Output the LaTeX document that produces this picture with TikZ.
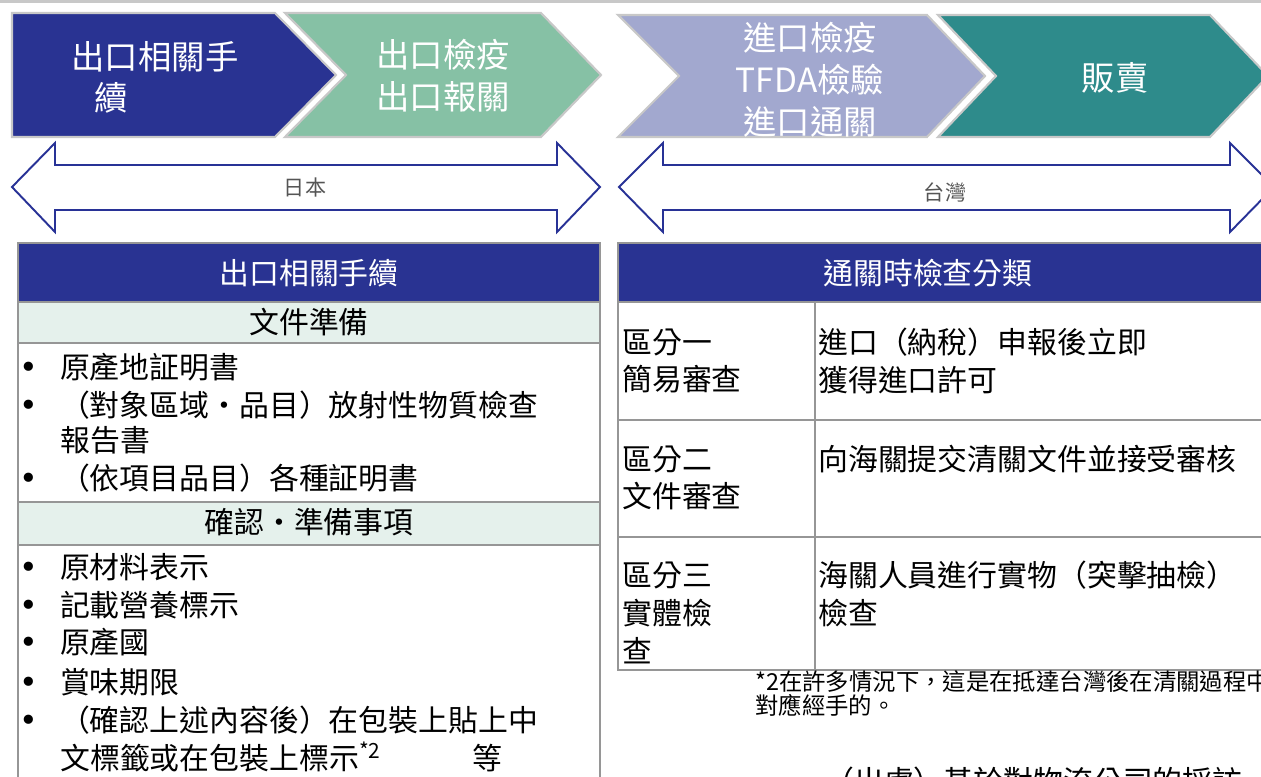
\documentclass[tikz,border=0pt]{standalone}
\usepackage{fontspec}
\setmainfont{Noto Sans CJK TC}
\newfontfamily\dotfont{DejaVu Sans}
\usetikzlibrary{positioning}

\definecolor{navy}{RGB}{41,51,146}
\definecolor{mint}{RGB}{134,193,165}
\definecolor{lilac}{RGB}{162,168,207}
\definecolor{deepteal}{RGB}{46,139,139}
\definecolor{paleg}{RGB}{229,241,236}
\definecolor{rulegray}{RGB}{150,150,150}
\definecolor{edgegray}{RGB}{200,200,200}
\definecolor{arrowblue}{RGB}{40,50,150}
\definecolor{landgray}{RGB}{85,85,85}

\newcommand{\bul}{\makebox[23.2pt][l]{\dotfont\fontsize{18}{21.5}\selectfont •}}

\begin{document}
\begin{tikzpicture}[x=0.02cm,y=-0.02cm,
        chev/.style={draw=edgegray,line width=1.2pt},
        chevtext/.style={text=white,align=center,inner sep=0pt,font=\fontsize{19}{24}\selectfont},
        bidir/.style={draw=arrowblue,fill=white,line width=1.1pt},
        land/.style={text=landgray,inner sep=0pt,font=\fontsize{12}{14}\selectfont},
        cell/.style={draw=rulegray,line width=1pt},
        head/.style={text=white,inner sep=0pt,font=\fontsize{17}{21}\selectfont},
        sub/.style={inner sep=0pt,font=\fontsize{17}{21}\selectfont},
        item/.style={anchor=west,inner sep=0pt,font=\fontsize{17}{21.5}\selectfont},
        cls/.style={anchor=west,align=left,inner sep=0pt,font=\fontsize{17}{21.5}\selectfont},
        note/.style={anchor=west,align=left,inner sep=0pt,font=\fontsize{13.3}{13.2}\selectfont}]

    \useasboundingbox (0,0) rectangle (1261,777);

    % top rule
    \draw[edgegray,line width=1.7pt] (0,1.5) -- (1261,1.5);

    % process chevrons
    \filldraw[chev,fill=navy] (12,13) -- (275,13) -- (336,75) -- (275,137) -- (12,137) -- cycle;
    \filldraw[chev,fill=mint] (285,13) -- (541,13) -- (601,75) -- (541,137) -- (285,137) -- (346,75) -- cycle;
    \filldraw[chev,fill=lilac] (618,15) -- (927,15) -- (985,76) -- (927,137) -- (618,137) -- (679,76) -- cycle;
    \filldraw[chev,fill=deepteal] (938,15) -- (1210,15) -- (1268,76) -- (1210,137) -- (938,137) -- (996,76) -- cycle;

    \node[chevtext] (proc_1a) at (155,57) {出口相關手};
    \node[chevtext] (proc_1b) at (111,98) {續};
    \node[chevtext] (proc_2) at (443,76) {出口檢疫\\出口報關};
    \node[chevtext] (proc_3) at (810,80) {進口檢疫\\TFDA檢驗\\進口通關};
    \node[chevtext] (proc_4) at (1115,78) {販賣};

    % country spans
    \filldraw[bidir] (12,187) -- (55,143) -- (55,165) -- (557,165) -- (557,143) -- (600,187)
        -- (557,232) -- (557,210) -- (55,210) -- (55,232) -- cycle;
    \filldraw[bidir] (619,187) -- (663,143) -- (663,165) -- (1230,165) -- (1230,143) -- (1274,187)
        -- (1230,232) -- (1230,210) -- (663,210) -- (663,232) -- cycle;
    \node[land] (jp) at (305,187) {日本};
    \node[land] (tw) at (945,192) {台灣};

    % left table
    \filldraw[cell,fill=navy] (18,243) rectangle (600,302);
    \filldraw[cell,fill=paleg] (18,302) rectangle (600,343);
    \draw[cell] (18,343) rectangle (600,502);
    \filldraw[cell,fill=paleg] (18,502) rectangle (600,545);
    \draw[cell] (18,545) rectangle (600,800);

    \node[head] (hd_l) at (309,273) {出口相關手續};
    \node[sub] (sec_doc) at (309,322) {文件準備};
    \node[sub] (sec_chk) at (309,522) {確認・準備事項};

    \foreach \yy/\txt [count=\i] in {367/原產地証明書, 405/（對象區域・品目）放射性物質檢查, 478/（依項目品目）各種証明書} {
        \node[item] (doc_\i) at (19,\yy) {\bul\txt};
    }
    \node[item] (doc_2b) at (60,440) {報告書};

    \foreach \yy/\txt [count=\i] in {567/原材料表示, 605/記載營養標示, 642/原產國, 682/賞味期限, 720/（確認上述內容後）在包裝上貼上中} {
        \node[item] (chk_\i) at (19,\yy) {\bul\txt};
    }
    \node[item] (chk_5b) at (60,757) {文標籤或在包裝上標示\textsuperscript{*2}\hspace{52pt}等};

    % right table
    \filldraw[cell,fill=navy] (618,243) rectangle (1280,302);
    \draw[cell] (618,302) rectangle (1280,420);
    \draw[cell] (618,420) rectangle (1280,537);
    \draw[cell] (618,537) rectangle (1280,670);
    \draw[cell] (815,302) -- (815,670);

    \node[head] (hd_r) at (928,273) {通關時檢查分類};

    \node[cls] (cls_1) at (622,361) {區分一\\簡易審查};
    \node[cls] (cls_1r) at (818,361) {進口（納稅）申報後立即\\獲得進口許可};
    \node[cls] (cls_2) at (622,478) {區分二\\文件審查};
    \node[cls] (cls_2r) at (818,459) {向海關提交清關文件並接受審核};
    \node[cls] (cls_3) at (622,613) {區分三\\實體檢\\查};
    \node[cls] (cls_3r) at (818,594) {海關人員進行實物（突擊抽檢）\\檢查};

    % notes
    \node[note] (fn) at (755,693.5) {*2在許多情況下，這是在抵達台灣後在清關過程中\\對應經手的。};
    \node[item] (src) at (824,781) {（出處）基於對物流公司的採訪};

\end{tikzpicture}
\end{document}
